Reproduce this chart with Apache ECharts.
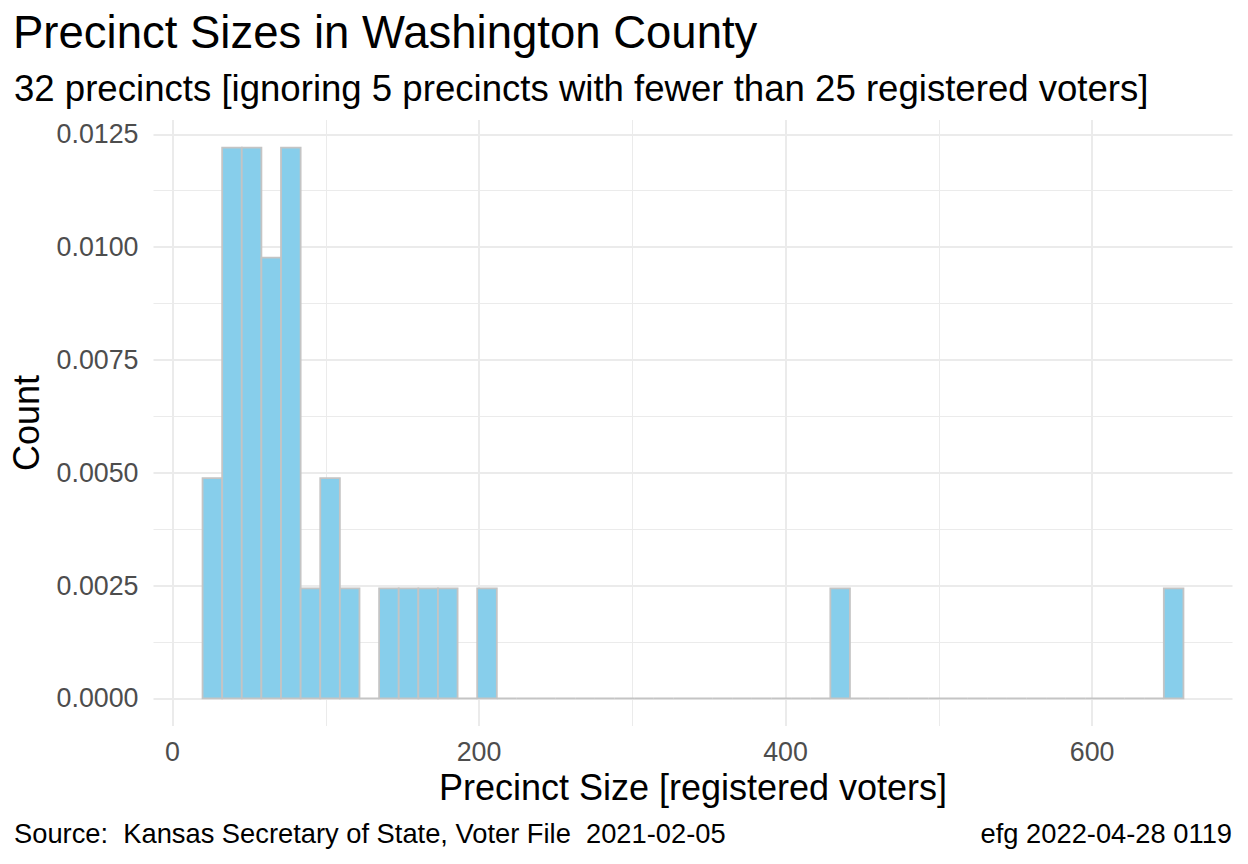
<!DOCTYPE html>
<html><head><meta charset="utf-8">
<script src="https://cdn.jsdelivr.net/npm/echarts@6/dist/echarts.min.js"></script>
<style>html,body{margin:0;padding:0;background:#fff}#c{width:1248px;height:864px}</style>
</head><body><div id="c"></div>
<script>
const titleText = 'Precinct Sizes in Washington County';
const subtitleText = '32 precincts [ignoring 5 precincts with fewer than 25 registered voters]';
const xAxisTitle = 'Precinct Size [registered voters]';
const yAxisTitle = 'Count';
const captionLeft = 'Source:  Kansas Secretary of State, Voter File  2021-02-05';
const captionRight = 'efg 2022-04-28 0119';

// histogram: 50 bins starting at binStart, each binWidth wide (registered voters)
const binStart = 19.6;
const binWidth = 12.8;
const binCounts = [
  2, 5, 5, 4, 5, 1, 2, 1, 0, 1,
  1, 1, 1, 0, 1, 0, 0, 0, 0, 0,
  0, 0, 0, 0, 0, 0, 0, 0, 0, 0,
  0, 0, 1, 0, 0, 0, 0, 0, 0, 0,
  0, 0, 0, 0, 0, 0, 0, 0, 0, 1
];
const xTicks = [0, 200, 400, 600];
const xMinorTicks = [100, 300, 500];
const yTicks = [0, 0.0025, 0.005, 0.0075, 0.01, 0.0125];
const yMinorTicks = [0.00125, 0.00375, 0.00625, 0.00875, 0.01125];
const xRange = [-12.4, 691.6];
const yRange = [-0.00061, 0.012817];

const total = binCounts.reduce((a, b) => a + b, 0);
const histData = binCounts.map((c, i) => [binStart + i * binWidth, binStart + (i + 1) * binWidth, c / (total * binWidth)]);

const FF = '"Liberation Sans", Arial, sans-serif';
const chart = echarts.init(document.getElementById('c'), null, {renderer: 'svg'});
const gridLine = {color: '#EBEBEB', width: 2};
const minorLine = {color: '#EBEBEB', width: 1};

chart.setOption({
  backgroundColor: '#fff',
  animation: false,
  title: [
    {text: titleText, left: 13, top: 9, padding: 0, textStyle: {fontFamily: FF, fontSize: 45.5, fontWeight: 'normal', color: '#000'}},
    {text: subtitleText, left: 14, top: 70, padding: 0, textStyle: {fontFamily: FF, fontSize: 36.6, fontWeight: 'normal', color: '#000'}},
    {text: captionLeft, left: 14, top: 820, padding: 0, textStyle: {fontFamily: FF, fontSize: 27.3, fontWeight: 'normal', color: '#000'}},
    {text: captionRight, right: 16, top: 820, padding: 0, textStyle: {fontFamily: FF, fontSize: 27.3, fontWeight: 'normal', color: '#000'}}
  ],
  grid: {left: 153.5, right: 15.5, top: 120, bottom: 138, outerBoundsMode: 'none', containLabel: false},
  xAxis: [
    {
      type: 'value', min: xRange[0], max: xRange[1],
      axisLine: {show: false},
      axisTick: {show: false, customValues: xTicks},
      axisLabel: {customValues: xTicks, color: '#4D4D4D', fontSize: 26.8, fontFamily: FF, margin: 12},
      splitLine: {show: true, lineStyle: gridLine},
      name: xAxisTitle, nameLocation: 'middle', nameGap: 42,
      nameTextStyle: {fontFamily: FF, fontSize: 36, color: '#000'}
    },
    {
      type: 'value', min: xRange[0], max: xRange[1], position: 'bottom',
      axisLine: {show: false},
      axisTick: {show: false, customValues: xMinorTicks},
      axisLabel: {show: false, customValues: xMinorTicks},
      splitLine: {show: true, lineStyle: minorLine}
    }
  ],
  yAxis: [
    {
      type: 'value', min: yRange[0], max: yRange[1],
      axisLine: {show: false},
      axisTick: {show: false, customValues: yTicks},
      axisLabel: {customValues: yTicks, color: '#4D4D4D', fontSize: 26.8, fontFamily: FF, margin: 15,
                  formatter: v => v.toFixed(4)},
      splitLine: {show: true, lineStyle: gridLine},
      name: yAxisTitle, nameLocation: 'middle', nameGap: 109, nameRotate: 90,
      nameTextStyle: {fontFamily: FF, fontSize: 36, color: '#000'}
    },
    {
      type: 'value', min: yRange[0], max: yRange[1], position: 'left',
      axisLine: {show: false},
      axisTick: {show: false, customValues: yMinorTicks},
      axisLabel: {show: false, customValues: yMinorTicks},
      splitLine: {show: true, lineStyle: minorLine}
    }
  ],
  series: [{
    type: 'custom',
    xAxisIndex: 0, yAxisIndex: 0,
    data: histData,
    encode: {x: [0, 1], y: 2},
    clip: false,
    renderItem: (params, api) => {
      const p0 = api.coord([api.value(0), api.value(2)]);
      const p1 = api.coord([api.value(1), 0]);
      return {
        type: 'rect',
        shape: {x: p0[0], y: p0[1], width: p1[0] - p0[0], height: p1[1] - p0[1]},
        style: {fill: '#87CEEB', stroke: '#C4C4C4', lineWidth: 1.8}
      };
    }
  }]
});
</script>
</body></html>
